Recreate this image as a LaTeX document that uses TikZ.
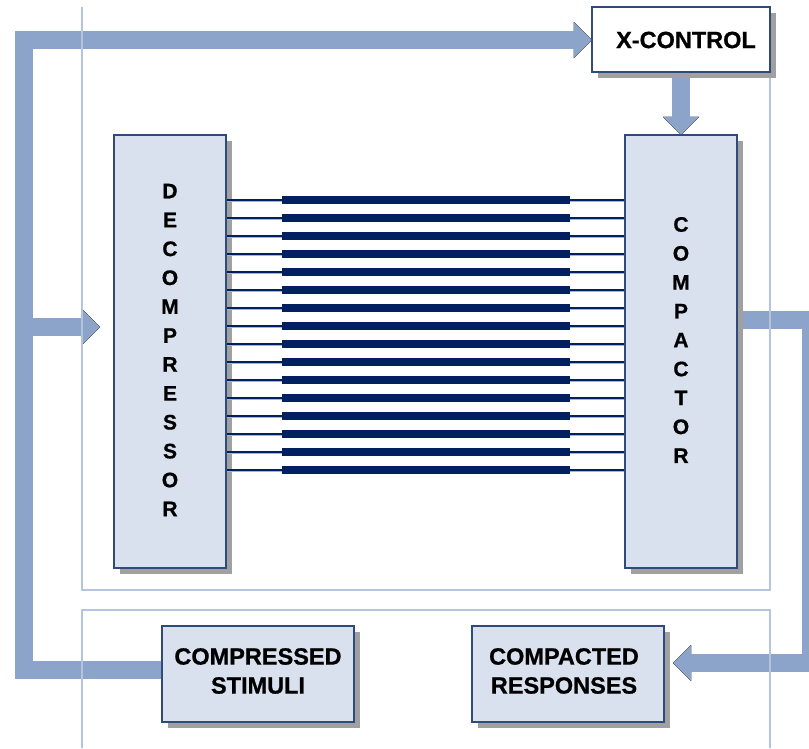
\documentclass[tikz,border=0pt]{standalone}
\usepackage{fontspec}
\setmainfont{Liberation Sans}
\newfontfamily\heavyfont[BoldFeatures={FakeBold=0.8}]{Liberation Sans}
\usetikzlibrary{arrows.meta,shadows}

\definecolor{flow}{HTML}{8CA3CA}
\definecolor{framec}{HTML}{B4C3DE}
\definecolor{boxfill}{HTML}{D9E0EE}
\definecolor{boxedge}{HTML}{2F4B7C}
\definecolor{navy}{HTML}{002060}
\definecolor{shade}{HTML}{A0A0A0}
\definecolor{wireshade}{HTML}{A8B4C8}

\tikzset{
  blockbox/.style={draw=boxedge, line width=2pt, fill=boxfill, inner sep=0pt,
    drop shadow={shadow xshift=6pt, shadow yshift=-6pt, fill=shade, opacity=1}},
  labeltext/.style={font=\heavyfont\bfseries\fontsize{23.5}{29}\selectfont, align=center, inner sep=0pt},
  lettertext/.style={font=\heavyfont\bfseries\fontsize{21}{28.9}\selectfont, align=center, inner sep=0pt},
  flowline/.style={line width=18pt, draw=flow, line join=miter,
    -{Triangle[width=36pt, length=18pt, line width=0pt]}},
  flowplain/.style={line width=18pt, draw=flow, line join=miter},
  flowshadow/.style={draw=black, draw opacity=#1},
  framestyle/.style={draw=framec, line width=1.6pt},
  wire/.style={draw=navy, line width=1.8pt},
  wireshadow/.style={draw=wireshade, line width=1pt},
  bus/.style={draw=navy, line width=8pt},
}

% the feedback arrows, drawn once per shadow layer and once in colour
\newcommand{\flowpaths}[1]{%
  \draw[flowplain, #1] (cs.west |- lbot) -- (lbot) -- (ltop) -- ([xshift=-18pt]xc.west |- ltop);
  \draw[flowline, #1] (ltop) -- (xc.west |- ltop);
  \draw[flowline, #1, shorten >=14pt] (lbranch) -- (decomp.west |- lbranch);
  \draw[flowline, #1] (xc.south) -- (comp.north);
  \draw[flowline, #1, shorten >=9pt] (comp.east |- rtop) -- (rtop) -- (rbot) -- (cr.east |- rbot);
}

\begin{document}
\begin{tikzpicture}[x=1pt, y=-1pt]
  \useasboundingbox (0,0) rectangle (809,748);

  % anchor points of the thick feedback paths
  \coordinate (lbot) at (24,670);
  \coordinate (ltop) at (24,40);
  \coordinate (lbranch) at (15,327);
  \coordinate (rtop) at (811,320);
  \coordinate (rbot) at (811,663);

  % placement of the blocks first (the paths refer to them)
  \path (681,39.5) node[minimum width=178pt, minimum height=65pt] (xc) {};
  \path (170,351.5) node[minimum width=112pt, minimum height=433pt] (decomp) {};
  \path (681,351.5) node[minimum width=112pt, minimum height=433pt] (comp) {};
  \path (258,674) node[minimum width=192pt, minimum height=96pt] (cs) {};
  \path (568,674) node[minimum width=192pt, minimum height=96pt] (cr) {};

  % soft shadows of the feedback paths
  \begin{scope}[xshift=3pt, yshift=-4pt]
    \flowpaths{flowshadow=0.14}
  \end{scope}
  \begin{scope}[xshift=6pt, yshift=-7pt]
    \flowpaths{flowshadow=0.07}
  \end{scope}
  \flowpaths{}

  % thin container outlines
  \draw[framestyle] (82,7) -- (82,590) -- (770,590) -- (770,7);
  \draw[framestyle] (82,748) -- (82,610) -- (770,610) -- (770,748);

  % blocks
  \node[blockbox, fill=white, minimum width=178pt, minimum height=65pt] (xcbox) at (xc) {};
  \node[labeltext] (xclabel) at (686,40) {X-CONTROL};

  \node[blockbox, minimum width=112pt, minimum height=433pt] (decompbox) at (decomp) {};
  \node[lettertext] (decomplabel) at (170,350) {D\\E\\C\\O\\M\\P\\R\\E\\S\\S\\O\\R};

  \node[blockbox, minimum width=112pt, minimum height=433pt] (compbox) at (comp) {};
  \node[lettertext] (complabel) at (681,340) {C\\O\\M\\P\\A\\C\\T\\O\\R};

  \node[blockbox, minimum width=192pt, minimum height=96pt] (csbox) at (cs) {};
  \node[labeltext] (cslabel) at (258,671) {COMPRESSED\\STIMULI};

  \node[blockbox, minimum width=192pt, minimum height=96pt] (crbox) at (cr) {};
  \node[labeltext] (crlabel) at (564,671) {COMPACTED\\RESPONSES};

  % scan chains between decompressor and compactor
  \foreach \k in {0,...,15} {
    \pgfmathsetmacro{\yy}{200+18*\k}
    \draw[wireshadow] (decompbox.east |- 0,\yy+1.8) -- (compbox.west |- 0,\yy+1.8);
    \draw[wire] (decompbox.east |- 0,\yy) -- (compbox.west |- 0,\yy);
    \draw[bus] (282,\yy) -- (570,\yy);
  }
\end{tikzpicture}
\end{document}
